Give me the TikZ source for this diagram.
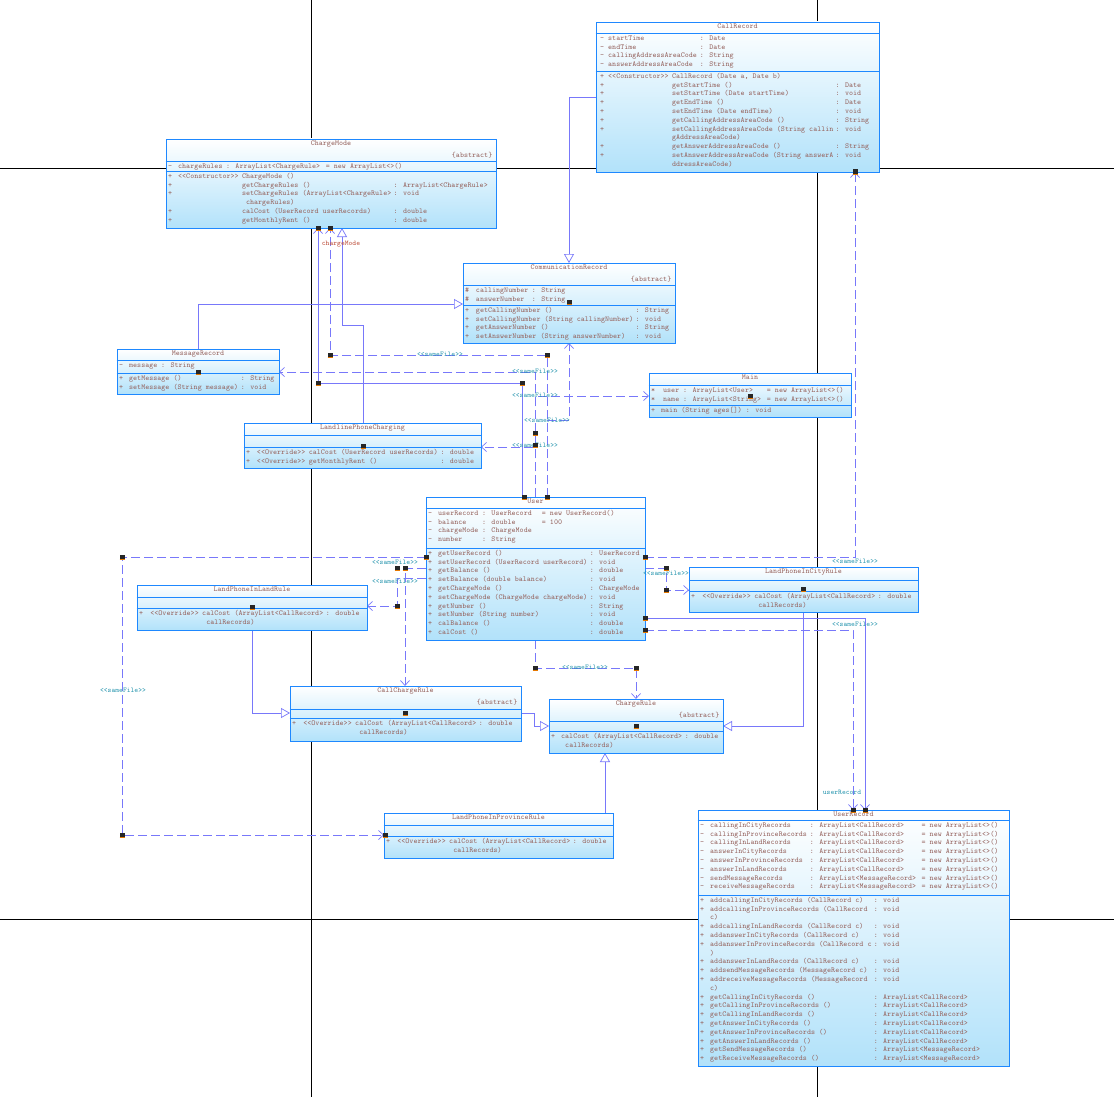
\documentclass[tikz,border=0pt]{standalone}
\usepackage{fontspec}
\usepackage{tikz}
\usetikzlibrary{arrows.meta,positioning,calc,fit}
\definecolor{umlblue}{RGB}{30,136,255}
\definecolor{umlfill}{RGB}{178,226,250}
\definecolor{umltext}{RGB}{150,100,95}
\definecolor{umlred}{RGB}{190,80,60}
\definecolor{umlteal}{RGB}{40,150,175}
\definecolor{linkblue}{RGB}{120,120,250}
\definecolor{hdlorange}{RGB}{230,120,0}
\newlength{\cw}
\setlength{\cw}{3.99pt}
\newcommand{\cl}[2]{\makebox[#1\cw][l]{\strut #2}}
\newcommand{\hdl}[2]{\fill[black!85] ($(#1,#2)+(-2.5,-2.5)$) rectangle ++(5,5);
  \draw[hdlorange,line width=0.8pt] ($(#1,#2)+(-2.5,2.2)$) -- ++(5,0);}
% one class box: name, corner, corner, title, first and second separator
\newcommand{\umlclass}[6]{%
  \node[cls, fit={#2 #3}] (#1) {};
  \draw[clsline] (#1.west |- 0,#5) -- (#1.east |- 0,#5);
  \draw[clsline] (#1.west |- 0,#6) -- (#1.east |- 0,#6);
  \node[ttl, below=0pt of #1.north] (#1-t) {#4};}
\tikzset{
  cls/.style={draw=umlblue, line width=0.9pt, top color=white, bottom color=umlfill, inner sep=0pt},
  clsline/.style={umlblue, line width=0.9pt},
  ttl/.style={inner sep=1.5pt, text height=5.5pt, text depth=1.5pt, text=umltext,
    font=\fontsize{7.6}{8.8}\selectfont\ttfamily},
  txt/.style={anchor=north west, inner sep=0pt, align=left, text=umltext,
    font=\fontsize{7.6}{8.8}\selectfont\ttfamily},
  lbl/.style={inner sep=0.5pt, text=umlteal, font=\fontsize{7.2}{8}\selectfont\ttfamily},
  gen/.style={linkblue, line width=0.7pt, -{Triangle[open,length=9pt,width=10pt,fill=white]}},
  assoc/.style={linkblue, line width=0.7pt, -{Straight Barb[length=5pt,width=9pt]}},
  dep/.style={linkblue, line width=0.7pt, dash pattern=on 9pt off 4pt, -{Straight Barb[length=5pt,width=9pt]}},
  pagebreak/.style={black, line width=0.8pt},
}
\begin{document}
\begin{tikzpicture}[x=1pt,y=-1pt]
\useasboundingbox (0,0) rectangle (1114,1097);
\fill[white] (0,0) rectangle (1114,1097);
% page breaks
\draw[pagebreak] (311,0) -- (311,1097);
\draw[pagebreak] (817,0) -- (817,1097);
\draw[pagebreak] (0,168) -- (1114,168);
\draw[pagebreak] (0,919) -- (1114,919);

% ---- connectors (behind the classes)
% generalizations
\draw[gen] (596,97) -| (569,263);
\draw[gen] (198,349) |- (463,304);
\draw[gen] (363,423) -- (363,325) -| (342,228);
\draw[gen] (252,630) |- (290,713);
\draw[gen] (521,713) -- (534,713) -- (534,726) -- (549,726);
\draw[gen] (803,612) |- (723,726);
\draw[gen] (605,813) -- (605,753);
% associations
\draw[assoc] (522,497) -- (522,383) -| (318,228);
\draw[assoc] (645,618) -| (865,810);
% dependencies
\draw[dep] (547,497) -- (547,355) -| (330,228);
\draw[dep] (535,497) |- (279,372);
\draw[dep] (535,497) |- (649,396);
\draw[dep] (547,420) -| (569,343);
\draw[dep] (535,497) |- (481,447);
\draw[dep] (426,557) -| (122,835) -- (384,835);
\draw[dep] (426,568) -| (405,686);
\draw[dep] (426,578) -- (397,578) |- (367,606);
\draw[dep] (645,557) -| (855,172);
\draw[dep] (645,568) -- (666,568) |- (689,590);
\draw[dep] (645,630) -| (853,810);
\draw[dep] (535,640) |- (636,668) -- (636,699);

% ---- classes
\umlclass{callrec}{(596,22)}{(879,172)}{CallRecord}{33}{71}
\node[txt] (callrec-a) at (600,34) {%
\cl{2}{-}\cl{23}{startTime}: Date\\
\cl{2}{-}\cl{23}{endTime}: Date\\
\cl{2}{-}\cl{23}{callingAddressAreaCode}: String\\
\cl{2}{-}\cl{23}{answerAddressAreaCode}: String};
\node[txt] (callrec-m) at (600,72) {%
\cl{2}{+}\cl{16}{<<Constructor>>}CallRecord (Date a, Date b)\\
\cl{2}{+}\cl{16}{}\cl{41}{getStartTime ()}: Date\\
\cl{2}{+}\cl{16}{}\cl{41}{setStartTime (Date startTime)}: void\\
\cl{2}{+}\cl{16}{}\cl{41}{getEndTime ()}: Date\\
\cl{2}{+}\cl{16}{}\cl{41}{setEndTime (Date endTime)}: void\\
\cl{2}{+}\cl{16}{}\cl{41}{getCallingAddressAreaCode ()}: String\\
\cl{2}{+}\cl{16}{}\cl{41}{setCallingAddressAreaCode (String callin}: void\\
\cl{2}{}\cl{16}{}gAddressAreaCode)\\
\cl{2}{+}\cl{16}{}\cl{41}{getAnswerAddressAreaCode ()}: String\\
\cl{2}{+}\cl{16}{}\cl{41}{setAnswerAddressAreaCode (String answerA}: void\\
\cl{2}{}\cl{16}{}ddressAreaCode)};

\umlclass{chmode}{(166,139)}{(496,228)}{ChargeMode}{161}{171}
\node[ttl, anchor=north east] (chmode-s) at (494,150) {\{abstract\}};
\node[txt] (chmode-a) at (168,162) {%
\cl{2.5}{-}\cl{12}{chargeRules}\cl{25}{: ArrayList<ChargeRule>}= new ArrayList<>()};
\node[txt] (chmode-m) at (168,172) {%
\cl{2.5}{+}\cl{16}{<<Constructor>>}ChargeMode ()\\
\cl{2.5}{+}\cl{16}{}\cl{38}{getChargeRules ()}: ArrayList<ChargeRule>\\
\cl{2.5}{+}\cl{16}{}\cl{38}{setChargeRules (ArrayList<ChargeRule>}: void\\
\cl{2.5}{}\cl{16}{} chargeRules)\\
\cl{2.5}{+}\cl{16}{}\cl{38}{calCost (UserRecord userRecords)}: double\\
\cl{2.5}{+}\cl{16}{}\cl{38}{getMonthlyRent ()}: double};

\umlclass{comrec}{(463,263)}{(675,343)}{CommunicationRecord}{285}{305}
\node[ttl, anchor=north east] (comrec-s) at (673,274) {\{abstract\}};
\node[txt] (comrec-a) at (465,286) {%
\cl{2.7}{\#}\cl{14}{callingNumber}: String\\
\cl{2.7}{\#}\cl{14}{answerNumber}: String};
\node[txt] (comrec-m) at (465,306) {%
\cl{2.7}{+}\cl{40}{getCallingNumber ()}: String\\
\cl{2.7}{+}\cl{40}{setCallingNumber (String callingNumber)}: void\\
\cl{2.7}{+}\cl{40}{getAnswerNumber ()}: String\\
\cl{2.7}{+}\cl{40}{setAnswerNumber (String answerNumber)}: void};

\umlclass{msgrec}{(117,349)}{(279,394)}{MessageRecord}{360}{373}
\node[txt] (msgrec-a) at (119,361) {%
\cl{2.5}{-}\cl{8}{message}: String};
\node[txt] (msgrec-m) at (119,374) {%
\cl{2.5}{+}\cl{28}{getMessage ()}: String\\
\cl{2.5}{+}\cl{28}{setMessage (String message)}: void};

\umlclass{main}{(649,373)}{(851,417)}{Main}{385}{405}
\node[txt] (main-a) at (651,386) {%
\cl{3}{*}\cl{5}{user}\cl{21}{: ArrayList<User>}= new ArrayList<>()\\
\cl{3}{*}\cl{5}{name}\cl{21}{: ArrayList<String>}= new ArrayList<>()};
\node[txt] (main-m) at (651,406) {%
\cl{2.5}{+}main (String ages[]) : void};

\umlclass{landline}{(244,423)}{(481,468)}{LandlinePhoneCharging}{435}{447}
\node[txt] (landline-m) at (246,448) {%
\cl{2.7}{+}\cl{13}{<<Override>>}\cl{33}{calCost (UserRecord userRecords)}: double\\
\cl{2.7}{+}\cl{13}{<<Override>>}\cl{33}{getMonthlyRent ()}: double};

\umlclass{user}{(426,497)}{(645,640)}{User}{508}{548}
\node[txt] (user-a) at (428,509) {%
\cl{2.5}{-}\cl{11}{userRecord}\cl{15}{: UserRecord}= new UserRecord()\\
\cl{2.5}{-}\cl{11}{balance}\cl{15}{: double}= 100\\
\cl{2.5}{-}\cl{11}{chargeMode}\cl{15}{: ChargeMode}\\
\cl{2.5}{-}\cl{11}{number}\cl{15}{: String}};
\node[txt] (user-m) at (428,549) {%
\cl{2.5}{+}\cl{38}{getUserRecord ()}: UserRecord\\
\cl{2.5}{+}\cl{38}{setUserRecord (UserRecord userRecord)}: void\\
\cl{2.5}{+}\cl{38}{getBalance ()}: double\\
\cl{2.5}{+}\cl{38}{setBalance (double balance)}: void\\
\cl{2.5}{+}\cl{38}{getChargeMode ()}: ChargeMode\\
\cl{2.5}{+}\cl{38}{setChargeMode (ChargeMode chargeMode)}: void\\
\cl{2.5}{+}\cl{38}{getNumber ()}: String\\
\cl{2.5}{+}\cl{38}{setNumber (String number)}: void\\
\cl{2.5}{+}\cl{38}{calBalance ()}: double\\
\cl{2.5}{+}\cl{38}{calCost ()}: double};

\umlclass{inland}{(137,585)}{(367,630)}{LandPhoneInLandRule}{597}{608}
\node[txt] (inland-m) at (139,609) {%
\cl{2.8}{+}\cl{13}{<<Override>>}\cl{31}{calCost (ArrayList<CallRecord>}: double\\
\cl{2.8}{}\cl{13}{} callRecords)};

\umlclass{incity}{(689,567)}{(918,612)}{LandPhoneInCityRule}{580}{591}
\node[txt] (incity-m) at (691,592) {%
\cl{2.8}{+}\cl{13}{<<Override>>}\cl{31}{calCost (ArrayList<CallRecord>}: double\\
\cl{2.8}{}\cl{13}{} callRecords)};

\umlclass{callrule}{(290,686)}{(521,741)}{CallChargeRule}{709}{718}
\node[ttl, anchor=north east] (callrule-s) at (519,697) {\{abstract\}};
\node[txt] (callrule-m) at (292,719) {%
\cl{2.8}{+}\cl{13}{<<Override>>}\cl{31}{calCost (ArrayList<CallRecord>}: double\\
\cl{2.8}{}\cl{13}{} callRecords)};

\umlclass{chrule}{(549,699)}{(723,753)}{ChargeRule}{721}{731}
\node[ttl, anchor=north east] (chrule-s) at (721,710) {\{abstract\}};
\node[txt] (chrule-m) at (551,732) {%
\cl{2.5}{+}\cl{31}{calCost (ArrayList<CallRecord>}: double\\
\cl{2.5}{} callRecords)};

\umlclass{inprov}{(384,813)}{(613,858)}{LandPhoneInProvinceRule}{825}{836}
\node[txt] (inprov-m) at (386,837) {%
\cl{2.8}{+}\cl{13}{<<Override>>}\cl{31}{calCost (ArrayList<CallRecord>}: double\\
\cl{2.8}{}\cl{13}{} callRecords)};

\umlclass{urec}{(698,810)}{(1009,1066)}{UserRecord}{820}{895}
\node[txt] (urec-a) at (700,821) {%
\cl{2.5}{-}\cl{25}{callingInCityRecords}\cl{28}{: ArrayList<CallRecord>}= new ArrayList<>()\\
\cl{2.5}{-}\cl{25}{callingInProvinceRecords}\cl{28}{: ArrayList<CallRecord>}= new ArrayList<>()\\
\cl{2.5}{-}\cl{25}{callingInLandRecords}\cl{28}{: ArrayList<CallRecord>}= new ArrayList<>()\\
\cl{2.5}{-}\cl{25}{answerInCityRecords}\cl{28}{: ArrayList<CallRecord>}= new ArrayList<>()\\
\cl{2.5}{-}\cl{25}{answerInProvinceRecords}\cl{28}{: ArrayList<CallRecord>}= new ArrayList<>()\\
\cl{2.5}{-}\cl{25}{answerInLandRecords}\cl{28}{: ArrayList<CallRecord>}= new ArrayList<>()\\
\cl{2.5}{-}\cl{25}{sendMessageRecords}\cl{28}{: ArrayList<MessageRecord>}= new ArrayList<>()\\
\cl{2.5}{-}\cl{25}{receiveMessageRecords}\cl{28}{: ArrayList<MessageRecord>}= new ArrayList<>()};
\node[txt] (urec-m) at (700,896) {%
\cl{2.5}{+}\cl{41}{addcallingInCityRecords (CallRecord c)}: void\\
\cl{2.5}{+}\cl{41}{addcallingInProvinceRecords (CallRecord}: void\\
\cl{2.5}{}c)\\
\cl{2.5}{+}\cl{41}{addcallingInLandRecords (CallRecord c)}: void\\
\cl{2.5}{+}\cl{41}{addanswerInCityRecords (CallRecord c)}: void\\
\cl{2.5}{+}\cl{41}{addanswerInProvinceRecords (CallRecord c}: void\\
\cl{2.5}{})\\
\cl{2.5}{+}\cl{41}{addanswerInLandRecords (CallRecord c)}: void\\
\cl{2.5}{+}\cl{41}{addsendMessageRecords (MessageRecord c)}: void\\
\cl{2.5}{+}\cl{41}{addreceiveMessageRecords (MessageRecord}: void\\
\cl{2.5}{}c)\\
\cl{2.5}{+}\cl{41}{getCallingInCityRecords ()}: ArrayList<CallRecord>\\
\cl{2.5}{+}\cl{41}{getCallingInProvinceRecords ()}: ArrayList<CallRecord>\\
\cl{2.5}{+}\cl{41}{getCallingInLandRecords ()}: ArrayList<CallRecord>\\
\cl{2.5}{+}\cl{41}{getAnswerInCityRecords ()}: ArrayList<CallRecord>\\
\cl{2.5}{+}\cl{41}{getAnswerInProvinceRecords ()}: ArrayList<CallRecord>\\
\cl{2.5}{+}\cl{41}{getAnswerInLandRecords ()}: ArrayList<CallRecord>\\
\cl{2.5}{+}\cl{41}{getSendMessageRecords ()}: ArrayList<MessageRecord>\\
\cl{2.5}{+}\cl{41}{getReceiveMessageRecords ()}: ArrayList<MessageRecord>};

% ---- connector labels
\node[lbl, text=umlred] (l-chmode) at (341,244) {chargeMode};
\node[lbl] (l-urec) at (842,792) {userRecord};
\node[lbl] (l-d1) at (440,354) {<<sameFile>>};
\node[lbl] (l-d2) at (535,371) {<<sameFile>>};
\node[lbl] (l-d3) at (535,395) {<<sameFile>>};
\node[lbl] (l-d4) at (547,420) {<<sameFile>>};
\node[lbl] (l-d5) at (535,445) {<<sameFile>>};
\node[lbl] (l-d6) at (123,690) {<<sameFile>>};
\node[lbl] (l-d7) at (395,562) {<<sameFile>>};
\node[lbl] (l-d8) at (395,581) {<<sameFile>>};
\node[lbl] (l-d9) at (855,561) {<<sameFile>>};
\node[lbl] (l-d10) at (666,573) {<<sameFile>>};
\node[lbl] (l-d11) at (855,624) {<<sameFile>>};
\node[lbl] (l-d12) at (585,667) {<<sameFile>>};

% ---- selection handles
\hdl{318}{228} \hdl{330}{228} \hdl{569}{302} \hdl{198}{372}
\hdl{750}{396} \hdl{363}{446} \hdl{524}{497} \hdl{547}{497}
\hdl{426}{557} \hdl{645}{557} \hdl{645}{618} \hdl{645}{630}
\hdl{405}{713} \hdl{636}{726} \hdl{252}{607} \hdl{803}{589}
\hdl{385}{835} \hdl{855}{172} \hdl{853}{810} \hdl{865}{810}
\hdl{318}{383} \hdl{330}{355} \hdl{547}{355} \hdl{522}{383}
\hdl{122}{557} \hdl{122}{835} \hdl{397}{568} \hdl{405}{568}
\hdl{397}{606} \hdl{666}{568} \hdl{666}{590} \hdl{535}{668}
\hdl{636}{668} \hdl{535}{433} \hdl{535}{445}
\end{tikzpicture}
\end{document}
